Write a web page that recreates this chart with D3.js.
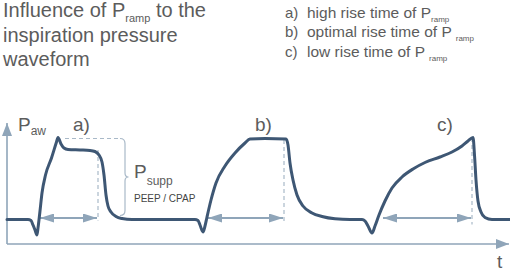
<!DOCTYPE html>
<html>
<head>
<meta charset="utf-8">
<script src="https://cdn.jsdelivr.net/npm/d3@7"></script>
<style>
  body { margin: 0; background: #fff; }
  text { font-family: "Liberation Sans", Arial, sans-serif; white-space: pre; }
</style>
</head>
<body>
<div id="chart"></div>
<script>
// pressure waveform samples: time t and airway pressure p (scale units)
const waveT = [0, 21, 24, 26, 28, 30, 31, 33, 35, 38.5, 44.5, 49.5, 51, 54, 57, 61, 73, 83, 88, 92, 95, 97, 99, 101, 104, 109, 115, 125,
  188, 191, 193, 196, 198, 200, 204, 209, 218, 228, 238, 243, 258, 279, 281, 283, 286, 290, 296, 305, 315, 328, 343,
  355, 358, 361, 365, 368, 372, 378, 385, 395, 406, 418, 433, 445, 455, 461, 466, 467.5, 469, 471, 474, 478, 485, 503];
const waveP = [24.5, 24.5, 23.5, 19, 14, 9, 16, 33, 51, 69, 86, 102, 106.5, 100, 96, 94.5, 94, 93.5, 92.5, 89, 82, 69, 49, 38, 32, 27.5, 25.5, 24.5,
  24.5, 23.5, 19, 12, 18, 27, 44, 61, 78, 91, 101, 105, 105.5, 105, 99, 81, 64, 49, 38, 31, 27.5, 25.2, 24.5,
  24.5, 23, 18, 11, 18, 29, 43, 56, 67, 75, 81.5, 87, 92, 98, 103, 106.5, 89, 64, 43, 32, 26.5, 24.5, 24.5];

const spans = [[33, 90], [201, 276], [376, 464]];   // rise-time arrows
const markT = [91, 277, 465];                         // end of inspiration (dashed)
const markTop = [94, 104, 106];
const peakA = [51, 106.5];
const peepLevel = 24.5;
const caseLabels = ["a)", "b)", "c)"];
const caseLabelT = [66, 248, 430];
const legendText = ["high rise time of P", "optimal rise time of P ", "low rise time of P "];
const legendSub = "ramp";

const width = 510, height = 271;
const svg = d3.select("#chart").append("svg")
  .attr("width", width).attr("height", height);

const x = d3.scaleLinear().domain([0, 500]).range([7, 507]);
const y = d3.scaleLinear().domain([0, 120]).range([244, 124]);

const axisCol = "#8fa5b9", waveCol = "#3e5774", dashCol = "#a9b9c8", textCol = "#5c5c5c";

// arrow markers
const defs = svg.append("defs");
function marker(id, len, half, orient) {
  defs.append("marker").attr("id", id)
    .attr("viewBox", `0 ${-half} ${len} ${2 * half}`)
    .attr("refX", len).attr("refY", 0)
    .attr("markerWidth", len).attr("markerHeight", 2 * half)
    .attr("markerUnits", "userSpaceOnUse")
    .attr("orient", orient)
    .append("path").attr("d", `M0,${-half}L${len},0L0,${half}Z`).attr("fill", axisCol);
}
marker("axisHead", 13, 5, "auto");
marker("spanHead", 14, 4.5, "auto-start-reverse");

// axes
svg.append("line")
  .attr("x1", x(0)).attr("y1", y(0)).attr("x2", x(0)).attr("y2", 123)
  .attr("stroke", axisCol).attr("stroke-width", 1.6).attr("marker-end", "url(#axisHead)");
svg.append("line")
  .attr("x1", x(0)).attr("y1", y(0)).attr("x2", 509).attr("y2", y(0))
  .attr("stroke", axisCol).attr("stroke-width", 1.6).attr("marker-end", "url(#axisHead)");

// dashed marks
svg.selectAll(".mark").data(markT).enter().append("line")
  .attr("x1", d => x(d)).attr("x2", d => x(d))
  .attr("y1", (d, i) => y(markTop[i])).attr("y2", (d, i) => y(peepLevel) + 1 + i * 2)
  .attr("stroke", dashCol).attr("stroke-width", 1.2).attr("stroke-dasharray", "4,3");
svg.append("line")
  .attr("x1", x(peakA[0]) + 7).attr("x2", 120)
  .attr("y1", y(peakA[1]) + 1).attr("y2", y(peakA[1]) + 1)
  .attr("stroke", dashCol).attr("stroke-width", 1.2).attr("stroke-dasharray", "4,3");

// brace for P_supp
const bTop = y(peakA[1]) + 1, bBot = y(peepLevel) - 4, bMid = (bTop + bBot) / 2;
svg.append("path")
  .attr("d", `M120,${bTop} Q125,${bTop} 125,${bTop + 5} L125,${bMid - 4} Q125,${bMid} 128.5,${bMid}
    Q125,${bMid} 125,${bMid + 4} L125,${bBot - 5} Q125,${bBot} 120,${bBot}`)
  .attr("fill", "none").attr("stroke", dashCol).attr("stroke-width", 1.2);

// rise-time arrows
svg.selectAll(".span").data(spans).enter().append("line")
  .attr("x1", d => x(d[0])).attr("x2", d => x(d[1]))
  .attr("y1", y(peepLevel) - 1.5).attr("y2", y(peepLevel) - 1.5)
  .attr("stroke", axisCol).attr("stroke-width", 2)
  .attr("marker-start", "url(#spanHead)").attr("marker-end", "url(#spanHead)");

// waveform
const pts = waveT.map((t, i) => [t, waveP[i]]);
const line = d3.line().x(d => x(d[0])).y(d => y(d[1])).curve(d3.curveMonotoneX);
svg.append("path").datum(pts)
  .attr("d", line)
  .attr("fill", "none").attr("stroke", waveCol).attr("stroke-width", 3)
  .attr("stroke-linejoin", "round").attr("stroke-linecap", "round");

// text helper with subscript
function subText(xp, yp, main, sub, size, subSize, dy) {
  const t = svg.append("text").attr("x", xp).attr("y", yp)
    .attr("fill", textCol).style("font-size", size + "px");
  t.append("tspan").text(main);
  t.append("tspan").attr("dy", dy).style("font-size", subSize + "px").text(sub);
  return t;
}

// title
subText(3, 17, "Influence of P", "ramp", 20, 11, 5)
  .append("tspan").attr("dy", -5).style("font-size", "20px").text(" to the");
svg.append("text").attr("x", 3).attr("y", 42).attr("fill", textCol)
  .style("font-size", "20px").text("inspiration pressure");
svg.append("text").attr("x", 3).attr("y", 66).attr("fill", textCol)
  .style("font-size", "20px").text("waveform");

// legend
legendText.forEach((s, i) => {
  const yy = 17.5 + i * 19.5;
  svg.append("text").attr("x", 285).attr("y", yy).attr("fill", textCol)
    .style("font-size", "15px").text(caseLabels[i]);
  subText(307, yy, s, legendSub, 15.5, 8, 4);
});

// curve labels
svg.selectAll(".case").data(caseLabels).enter().append("text")
  .attr("x", (d, i) => x(caseLabelT[i])).attr("y", 131)
  .attr("fill", textCol).style("font-size", "19px").text(d => d);

// axis labels
subText(18, 131, "P", "aw", 19, 12, 4);
svg.append("text").attr("x", 497).attr("y", 268).attr("fill", textCol)
  .style("font-size", "19px").text("t");

// P_supp and PEEP
subText(134, 178, "P", "supp", 19, 12, 7);
svg.append("text").attr("x", 134).attr("y", 202).attr("fill", "#444")
  .style("font-size", "10px").text("PEEP / CPAP");
</script>
</body>
</html>
